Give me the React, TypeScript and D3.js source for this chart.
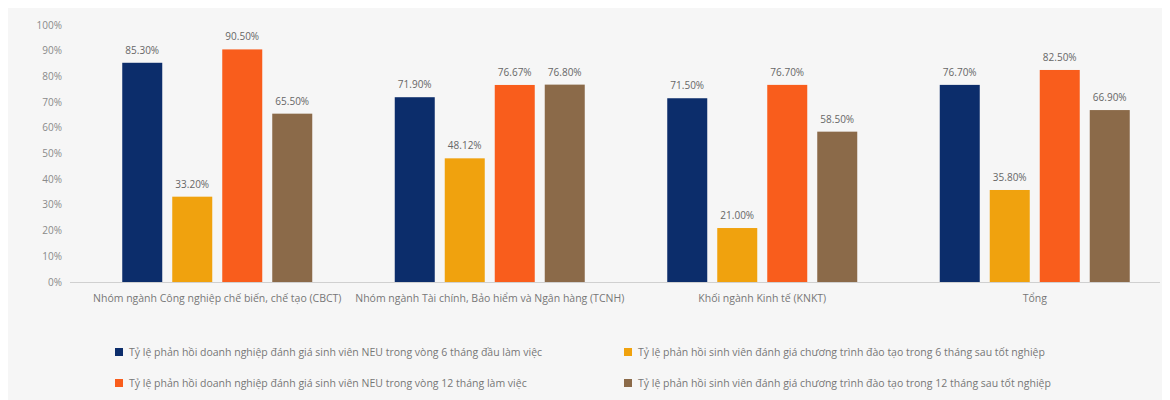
import React from "react";
import * as d3 from "d3";

const categories = [
  "Nhóm ngành Công nghiệp chế biến, chế tạo (CBCT)",
  "Nhóm ngành Tài chính, Bảo hiểm và Ngân hàng (TCNH)",
  "Khối ngành Kinh tế (KNKT)",
  "Tổng",
];
const seriesNames = [
  "Tỷ lệ phản hồi doanh nghiệp đánh giá sinh viên NEU trong vòng 6 tháng đầu làm việc",
  "Tỷ lệ phản hồi sinh viên đánh giá chương trình đào tạo trong 6 tháng sau tốt nghiệp",
  "Tỷ lệ phản hồi doanh nghiệp đánh giá sinh viên NEU trong vòng 12 tháng làm việc",
  "Tỷ lệ phản hồi sinh viên đánh giá chương trình đào tạo trong 12 tháng sau tốt nghiệp",
];
const seriesColors = ["#0c2d6b", "#f0a20e", "#f95d1c", "#8b6a49"];
const s1 = [85.3, 71.9, 71.5, 76.7];
const s2 = [33.2, 48.12, 21.0, 35.8];
const s3 = [90.5, 76.67, 76.7, 82.5];
const s4 = [65.5, 76.8, 58.5, 66.9];
const seriesValues = [s1, s2, s3, s4];
const yTicks = [0, 10, 20, 30, 40, 50, 60, 70, 80, 90, 100];

export default function App() {
  const W = 1154;
  const H = 392;
  const ox = -8; // svg offset from page coords
  const oy = -8;
  const x0 = d3.scaleBand<string>().domain(categories).range([81 + ox, 1171 + ox]);
  const x1 = d3
    .scaleBand<number>()
    .domain([0, 1, 2, 3])
    .range([-95, 95])
    .paddingInner(0.2)
    .paddingOuter(0);
  const y = d3.scaleLinear().domain([0, 100]).range([282 + oy, 25 + oy]);
  const font = "'Open Sans', 'Noto Sans', sans-serif";
  return (
    <svg width={W} height={H} style={{ display: "block", background: "#f6f6f6" }}>
      {yTicks.map((t) => (
        <text
          key={t}
          x={62 + ox}
          y={y(t)}
          dy="0.35em"
          textAnchor="end"
          fontSize={10}
          fill="#8a8a8a"
          fontFamily={font}
        >
          {t}%
        </text>
      ))}
      <line x1={70 + ox} x2={1160 + ox} y1={y(0) + 0.5} y2={y(0) + 0.5} stroke="#d0d0d0" />
      {categories.map((c, ci) => {
        const cx = (x0(c) as number) + x0.bandwidth() / 2;
        return (
          <g key={c}>
            {seriesValues.map((vals, si) => {
              const bx = cx + (x1(si) as number);
              const v = vals[ci];
              return (
                <g key={si}>
                  <rect
                    x={bx}
                    y={y(v)}
                    width={x1.bandwidth()}
                    height={y(0) - y(v)}
                    fill={seriesColors[si]}
                  />
                  <text
                    x={bx + x1.bandwidth() / 2}
                    y={y(v) - 9}
                    textAnchor="middle"
                    fontSize={10}
                    fill="#666"
                    fontFamily={font}
                  >
                    {v.toFixed(2)}%
                  </text>
                </g>
              );
            })}
            <text
              x={cx}
              y={298 + oy}
              dy="0.35em"
              textAnchor="middle"
              fontSize={10.5}
              fill="#777"
              fontFamily={font}
            >
              {c}
            </text>
          </g>
        );
      })}
      {seriesNames.map((n, i) => {
        const col = i % 2 === 0 ? 0 : 1;
        const row = i < 2 ? 0 : 1;
        const lx = (col === 0 ? 115 : 624) + ox;
        const ly = (row === 0 ? 352 : 383) + oy;
        return (
          <g key={n}>
            <rect x={lx} y={ly - 4} width={8} height={8} fill={seriesColors[i]} />
            <text
              x={lx + 14}
              y={ly}
              dy="0.35em"
              fontSize={10.5}
              fill="#777"
              fontFamily={font}
            >
              {n}
            </text>
          </g>
        );
      })}
    </svg>
  );
}
